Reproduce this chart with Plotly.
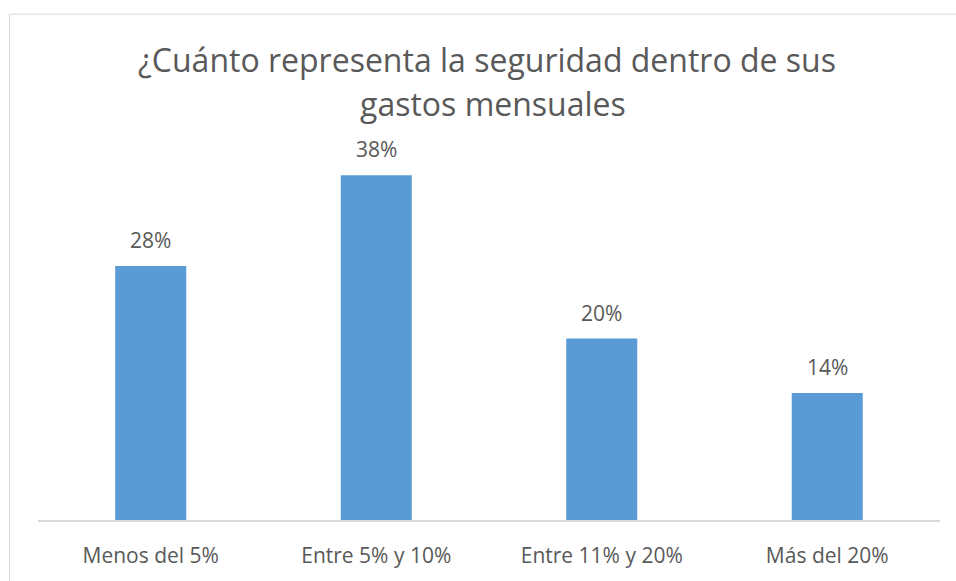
import plotly.graph_objects as go

categories = ["Menos del 5%", "Entre 5% y 10%", "Entre 11% y 20%", "Más del 20%"]
values = [28, 38, 20, 14]
labels = ["28%", "38%", "20%", "14%"]
title_lines = ["¿Cuánto representa la seguridad dentro de sus", "gastos mensuales"]

GREY = "#595959"
FONT = "Open Sans"

W, H = 956, 581
L, R, T, B = 38, 16, 150, 55
plot_w = W - L - R
plot_h = H - T - B


def px_x(px):
    return (px - L) / plot_w


def px_y(py):
    return (H - B - py) / plot_h


fig = go.Figure()
fig.add_trace(go.Bar(
    x=categories, y=values, width=0.315,
    marker=dict(color="#5B9BD5", line=dict(width=0)),
    hoverinfo="skip",
))

for c, v, t in zip(categories, values, labels):
    fig.add_annotation(x=c, y=v, text=t, showarrow=False, yanchor="bottom",
                       yshift=10, font=dict(family=FONT, size=21, color=GREY))

fig.add_annotation(xref="paper", yref="paper", x=px_x(487), y=px_y(58),
                   text=title_lines[0], showarrow=False, xanchor="center",
                   yanchor="middle", font=dict(family=FONT, size=32, color=GREY))
fig.add_annotation(xref="paper", yref="paper", x=px_x(493), y=px_y(103),
                   text=title_lines[1], showarrow=False, xanchor="center",
                   yanchor="middle", font=dict(family=FONT, size=32, color=GREY))

fig.add_shape(type="line", xref="paper", yref="paper",
              x0=px_x(9.5), x1=px_x(9.5), y0=px_y(600), y1=px_y(12),
              line=dict(color="#d9d9d9", width=1))
fig.add_shape(type="line", xref="paper", yref="paper",
              x0=px_x(9.5), x1=px_x(970), y0=px_y(12), y1=px_y(12),
              line=dict(color="#d9d9d9", width=1))

fig.update_layout(
    width=W, height=H,
    margin=dict(l=L, r=R, t=T, b=B, pad=0),
    paper_bgcolor="white", plot_bgcolor="white",
    showlegend=False,
    xaxis=dict(showline=True, linecolor="#d9d9d9", linewidth=1.5,
               ticks="", showgrid=False, ticklabelstandoff=16,
               tickfont=dict(family=FONT, size=21, color=GREY)),
    yaxis=dict(range=[0, plot_h / 9.22], visible=False, showgrid=False,
               zeroline=False),
    bargap=0.685,
)

fig.write_html(
    "out.html",
    config={"displayModeBar": False},
    post_script=(
        "document.documentElement.style.overflow='hidden';"
        "document.body.style.margin='0';"
        "document.body.style.overflow='hidden';"
    ),
)
